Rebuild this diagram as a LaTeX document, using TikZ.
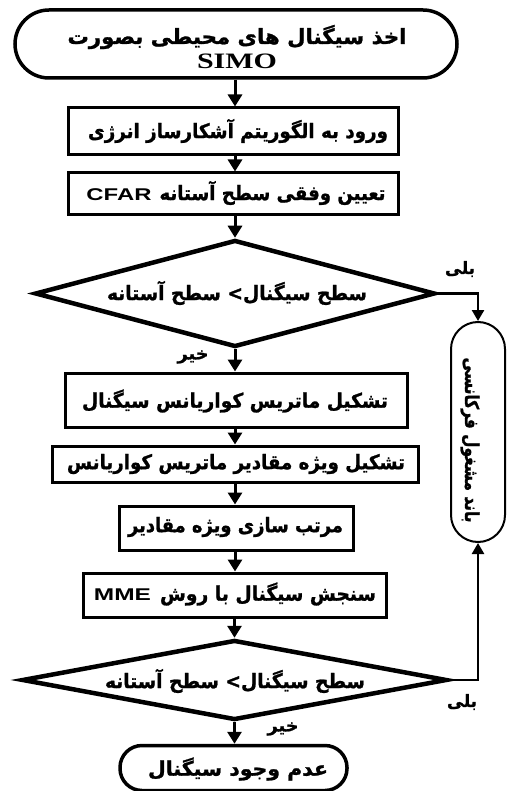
\documentclass[tikz,border=0pt]{standalone}
\usepackage{fontspec}
\usepackage{graphicx}
\usetikzlibrary{arrows.meta,shapes.geometric}
\TeXXeTstate=1
\newfontfamily\fa[Script=Arabic,BoldFeatures={FakeBold=1.2}]{DejaVu Sans}
\newfontfamily\lat{Liberation Sans}
\newfontfamily\tms{Liberation Serif}
\newcommand{\fat}[2]{\resizebox{#1pt}{\height}{\fa\bfseries\beginR #2\endR}}
\newcommand{\latw}[2]{\resizebox{#1pt}{\height}{\lat\bfseries\fontsize{17}{19}\selectfont #2}}
\tikzset{
  stepbox/.style={draw, line width=3pt, rectangle, inner sep=0pt},
  term/.style={draw, line width=3.5pt, rectangle, inner sep=0pt},
  dec/.style={draw, line width=4.5pt, diamond, inner sep=0pt},
  arr/.style={line width=3pt, -{Triangle[width=14pt,length=12pt]}},
  yesline/.style={line width=2.5pt, -{Triangle[width=12pt,length=11pt]}},
  txt/.style={inner sep=0pt, font=\fontsize{20}{22}\selectfont},
  lbl/.style={inner sep=0pt, font=\fontsize{17}{19}\selectfont},
}
\begin{document}
\begin{tikzpicture}[x=1pt,y=-1pt]
\useasboundingbox (0,0) rectangle (506,791);
\coordinate (col) at (235,0);
% nodes
\node[term, minimum width=442pt, minimum height=68pt, rounded corners=34pt] (start) at (236,44) {};
\node[txt, font=\fontsize{21}{23}\selectfont] (startA) at (237,37) {\fat{339}{اخذ سیگنال های محیطی بصورت}};
\node[inner sep=0pt, font=\fontsize{22}{24}\selectfont\tms\bfseries] (startB) at (237,61) {\resizebox{80pt}{\height}{SIMO}};
\node[stepbox, minimum width=330pt, minimum height=47pt] (b1) at (233,131.5) {};
\node[txt] (b1t) at (238,131) {\fat{300}{ورود به الگوریتم آشکارساز انرژی}};
\node[stepbox, minimum width=330pt, minimum height=42pt] (b2) at (233,194) {};
\node[txt] (b2t) at (236,193) {\latw{65}{CFAR}\hspace{8pt}\fat{226}{تعیین وفقی سطح آستانه}};
\node[dec, minimum width=400pt, minimum height=107pt] (d1) at (235,293.5) {};
\node[txt] (d1t) at (237,293) {\fat{260}{سطح سیگنال> سطح آستانه}};
\node[stepbox, minimum width=342pt, minimum height=54pt] (b3) at (236,400) {};
\node[txt] (b3t) at (235,401) {\fat{306}{تشکیل ماتریس کواریانس سیگنال}};
\node[stepbox, minimum width=366pt, minimum height=36pt] (b4) at (235,464) {};
\node[txt] (b4t) at (236,464) {\fat{338}{تشکیل ویژه مقادیر ماتریس کواریانس}};
\node[stepbox, minimum width=234pt, minimum height=44pt] (b5) at (236,528) {};
\node[txt] (b5t) at (235.5,527) {\fat{215}{مرتب سازی ویژه مقادیر}};
\node[stepbox, minimum width=303pt, minimum height=44pt] (b6) at (234.5,595) {};
\node[txt] (b6t) at (235,594) {\latw{57}{MME}\hspace{9pt}\fat{216}{سنجش سیگنال با روش}};
\node[dec, minimum width=425pt, minimum height=80pt] (d2) at (234.5,680) {};
\node[txt] (d2t) at (235,681) {\fat{260}{سطح سیگنال> سطح آستانه}};
\node[term, minimum width=227pt, minimum height=45pt, rounded corners=22pt] (end) at (233.5,768) {};
\node[txt] (endt) at (238,769) {\fat{180}{عدم وجود سیگنال}};
\node[draw, line width=2pt, inner sep=0pt, minimum width=54pt, minimum height=220pt, rounded corners=27pt] (band) at (478,432) {};
\node[txt, rotate=-90, font=\fontsize{19}{21}\selectfont] (bandt) at (470,440) {\fat{165}{باند مشغول فرکانسی}};
% labels
\node[lbl] (yes1) at (460,269) {\fat{30}{بلی}};
\node[lbl] (yes2) at (462,702) {\fat{30}{بلی}};
\node[lbl] (no1) at (193,357) {\fat{31}{خیر}};
\node[lbl] (no2) at (283,729) {\fat{31}{خیر}};
% connectors
\draw[arr] (start.south -| col) -- (b1.north -| col);
\draw[arr] (b1.south -| col) -- (b2.north -| col);
\draw[arr] (b2.south -| col) -- (d1.north);
\draw[arr] (d1.south) -- (b3.north -| d1.south);
\draw[arr] (b3.south -| col) -- (b4.north -| col);
\draw[arr] (b4.south -| col) -- (b5.north -| col);
\draw[arr] (b5.south -| col) -- (b6.north -| col);
\draw[arr] (b6.south -| d2.north) -- (d2.north);
\draw[arr] (d2.south) -- (end.north -| d2.south);
\draw[yesline] (d1.east) -| (band.north);
\draw[yesline] (d2.east) -| (band.south);
\end{tikzpicture}
\end{document}
